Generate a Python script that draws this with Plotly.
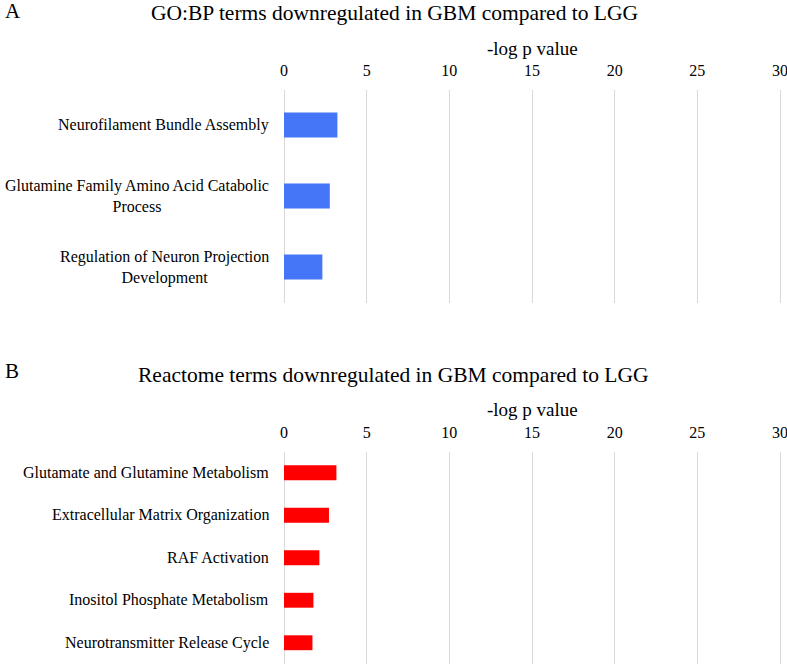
import plotly.graph_objects as go

go_terms = ["Neurofilament Bundle Assembly",
            "Glutamine Family Amino Acid Catabolic<br>Process",
            "Regulation of Neuron Projection<br>Development"]
go_values = [3.23, 2.77, 2.32]

re_terms = ["Glutamate and Glutamine Metabolism",
            "Extracellular Matrix Organization",
            "RAF Activation",
            "Inositol Phosphate Metabolism",
            "Neurotransmitter Release Cycle"]
re_values = [3.17, 2.72, 2.14, 1.78, 1.72]

x_ticks = [0, 5, 10, 15, 20, 25, 30]

W, H = 787, 664
L, R = 284, 2
PW = W - L - R
FONT = "Liberation Serif, Times New Roman, serif"

def py(pix):
    return 1 - pix / H

def px(pix):
    return (pix - L) / PW

fig = go.Figure()
fig.add_trace(go.Bar(x=go_values, y=go_terms, orientation="h",
                     marker=dict(color="#4676F8", line=dict(width=0)),
                     xaxis="x", yaxis="y", showlegend=False))
fig.add_trace(go.Bar(x=re_values, y=re_terms, orientation="h",
                     marker=dict(color="#FF0000", line=dict(width=0)),
                     xaxis="x2", yaxis="y2", showlegend=False))

xcommon = dict(range=[0, 30.3], tickvals=x_ticks, side="top", showgrid=True,
               gridcolor="#D9D9D9", gridwidth=1, zeroline=True, zerolinecolor="#D9D9D9",
               zerolinewidth=1, showline=False, ticks="outside", ticklen=6,
               tickcolor="rgba(0,0,0,0)", tickfont=dict(family=FONT, size=16, color="#000"),
               ticklabeloverflow="allow",
               automargin=False, fixedrange=True)
ycommon = dict(type="category", autorange="reversed", showticklabels=False,
               showgrid=False, zeroline=False, showline=False, ticks="",
               automargin=False, fixedrange=True)

fig.update_layout(
    width=W, height=H,
    margin=dict(l=L, r=R, t=0, b=0, autoexpand=False),
    plot_bgcolor="white", paper_bgcolor="white",
    bargap=0.65,
    xaxis=dict(xcommon, anchor="y"),
    yaxis=dict(ycommon, domain=[py(302.5), py(89.5)], anchor="x"),
    xaxis2=dict(xcommon, anchor="y2"),
    yaxis2=dict(ycommon, domain=[py(664), py(451.5)], anchor="x2"),
    font=dict(family=FONT, color="#000"),
)

ann = []
for t in go_terms:
    ann.append(dict(x=0, xref="x domain", y=t, yref="y", text=t, showarrow=False,
                    xanchor="right", yanchor="middle", align="center", xshift=-13,
                    font=dict(family=FONT, size=16, color="#000")))
for t in re_terms:
    ann.append(dict(x=0, xref="x2 domain", y=t, yref="y2", text=t, showarrow=False,
                    xanchor="right", yanchor="middle", align="center", xshift=-13,
                    font=dict(family=FONT, size=16, color="#000")))

def paper_text(text, xpix, ypix, size, anchor="center"):
    return dict(x=px(xpix), xref="paper", y=py(ypix), yref="paper", text=text,
                showarrow=False, xanchor=anchor, yanchor="middle",
                font=dict(family=FONT, size=size, color="#000"))

ann.append(paper_text("A", 3, 11, 21, "left"))
ann.append(paper_text("GO:BP terms downregulated in GBM compared to LGG", 394, 13, 21.5))
ann.append(paper_text("-log p value", 532, 48, 19))
ann.append(paper_text("B", 3, 371, 21, "left"))
ann.append(paper_text("Reactome terms downregulated in GBM compared to LGG", 393, 374.5, 21.5))
ann.append(paper_text("-log p value", 532, 409.5, 19))

fig.update_layout(annotations=ann)
fig.write_html("out.html", config={"displayModeBar": False},
               post_script="document.body.style.margin='0px';document.body.style.overflow='hidden';")
